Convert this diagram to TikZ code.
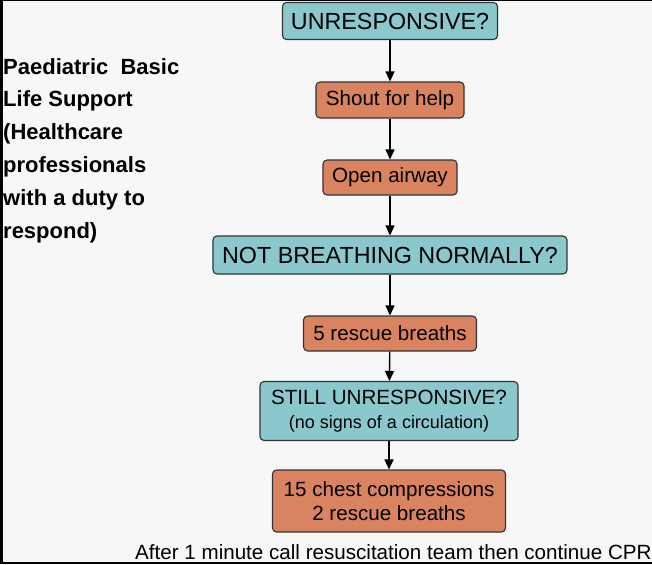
\documentclass[tikz,border=0pt]{standalone}
\usepackage{fontspec}
\setmainfont{Liberation Sans}
\usepackage{xcolor}
\usepackage{tikz}
\usetikzlibrary{arrows.meta}
\definecolor{askteal}{RGB}{138,200,205}
\definecolor{actorange}{RGB}{217,131,97}
\definecolor{paper}{RGB}{247,247,247}

\begin{document}
\begin{tikzpicture}[x=1pt, y=-1pt,
  question/.style={draw=black!80, line width=1.1pt, rounded corners=4pt, fill=askteal, inner sep=0pt, align=center},
  action/.style={draw=black!80, line width=1.1pt, rounded corners=4pt, fill=actorange, inner sep=0pt, align=center},
  arrow/.style={-{Triangle[length=10pt,width=9pt]}, line width=1.4pt}
]
\fill[paper] (0,0) rectangle (652,564);
\useasboundingbox (0,0) rectangle (652,564);
\node[anchor=north west, inner sep=0pt, align=left, font=\bfseries\fontsize{22}{32.8}\selectfont] (title) at (3,58) {Paediatric\ \ Basic\\Life Support\\(Healthcare\\professionals\\with a duty to\\respond)};
\node[question, minimum width=215, minimum height=37, font=\fontsize{23.3}{27}\selectfont] (unresp) at (390,21) {UNRESPONSIVE?};
\node[action, minimum width=148, minimum height=36, font=\fontsize{20.6}{24}\selectfont] (shout) at (390,100) {Shout for help};
\node[action, minimum width=134, minimum height=35, font=\fontsize{20.6}{24}\selectfont] (airway) at (390,177.5) {Open airway};
\node[question, minimum width=354, minimum height=38, font=\fontsize{23.3}{27}\selectfont] (breath) at (390,255) {NOT BREATHING NORMALLY?};
\node[action, minimum width=173, minimum height=35, font=\fontsize{20.6}{24}\selectfont] (rescue) at (390,333.5) {5 rescue breaths};
\node[question, minimum width=258, minimum height=59, font=\fontsize{20.6}{24}\selectfont] (still) at (389,411) {STILL UNRESPONSIVE?\\{\fontsize{18}{22}\selectfont (no signs of a circulation)}};
\node[action, minimum width=233, minimum height=62, font=\fontsize{20.6}{24}\selectfont] (chest) at (389,501) {15 chest compressions\\2 rescue breaths};
\node[anchor=base west, inner sep=0pt, font=\fontsize{20.6}{24}\selectfont] (note) at (135,559) {After 1 minute call resuscitation team then continue CPR};
\draw[arrow] (unresp) -- (shout);
\draw[arrow] (shout) -- (airway);
\draw[arrow] (airway) -- (breath);
\draw[arrow] (breath) -- (rescue);
\draw[arrow] (rescue) -- (still);
\draw[arrow] (still) -- (chest);
% frame
\fill[black] (0,0) rectangle (3,564);
\fill[black] (0,0) rectangle (652,1.5);
\fill[black] (0,562) rectangle (652,564);
\end{tikzpicture}
\end{document}
